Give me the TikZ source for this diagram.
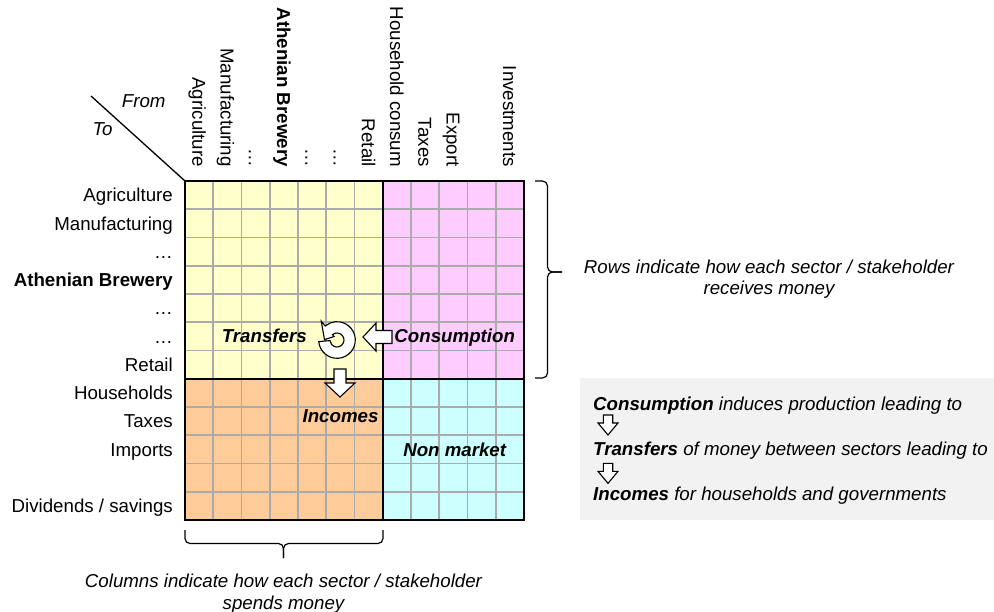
\documentclass[tikz,border=0pt]{standalone}
\usepackage{fontspec}
\setmainfont{Liberation Sans}
\definecolor{qyellow}{HTML}{FFFFCC}
\definecolor{qpink}{HTML}{FFCCFF}
\definecolor{qorange}{HTML}{FFCC99}
\definecolor{qcyan}{HTML}{CCFFFF}
\definecolor{gridgray}{HTML}{ABABAB}
\definecolor{boxgray}{HTML}{F2F2F2}
\begin{document}
\begin{tikzpicture}[x=1pt,y=-1pt,
  every node/.style={inner sep=0pt, font=\fontsize{18.7}{21.7}\selectfont},
  lbl/.style={anchor=base east},
  collbl/.style={anchor=base east, rotate=-90},
  gridline/.style={draw=gridgray, line width=1.6pt},
  quadframe/.style={draw=black, line width=2.3pt},
  blockarrow/.style={draw=black, fill=white, line width=1.1pt, line join=miter},
  bracepath/.style={draw=black, line width=1.2pt, rounded corners=5pt},
  qlabel/.style={anchor=base, font=\fontsize{18.7}{21.7}\selectfont\bfseries\itshape},
  note/.style={anchor=base, font=\fontsize{18.7}{21.7}\selectfont\itshape},
  expl/.style={anchor=base west, font=\fontsize{18.7}{21.7}\selectfont\itshape}
]
\useasboundingbox (0,0) rectangle (994,611);

% gray explanation box
\fill[boxgray] (580,378) rectangle (994,520);

% quadrants
\fill[qyellow] (185,181) rectangle (382.75,378.75);
\fill[qpink] (382.75,181) rectangle (524,378.75);
\fill[qorange] (185,378.75) rectangle (382.75,520);
\fill[qcyan] (382.75,378.75) rectangle (524,520);

% grid lines
\foreach \i in {1,...,11}{
  \draw[gridline] ({185+28.25*\i},181) -- ({185+28.25*\i},520);
  \draw[gridline] (185,{181+28.25*\i}) -- (524,{181+28.25*\i});
}
% frame and dividers
\draw[quadframe] (185,181) rectangle (524,520);
\draw[quadframe] (382.75,181) -- (382.75,520);
\draw[quadframe] (185,378.75) -- (524,378.75);

% diagonal header
\coordinate (diagstart) at (91,96);
\coordinate (corner) at (185,181);
\draw[line width=1.3pt] (diagstart) -- (corner);
\node[anchor=base west, font=\fontsize{18.7}{21.7}\selectfont\itshape] (from) at (121.7,107.3) {From};
\node[anchor=base west, font=\fontsize{18.7}{21.7}\selectfont\itshape] (to) at (92.3,135) {To};

% row labels
\node[lbl] (r1) at (173,201.8) {Agriculture};
\node[lbl] (r2) at (173,230.1) {Manufacturing};
\node[lbl] (r3) at (173,258.3) {…};
\node[lbl] (r4) at (173,286.6) {\bfseries Athenian Brewery};
\node[lbl] (r5) at (173,314.8) {…};
\node[lbl] (r6) at (173,343.1) {…};
\node[lbl] (r7) at (173,371.3) {Retail};
\node[lbl] (r8) at (173,399.6) {Households};
\node[lbl] (r9) at (173,427.8) {Taxes};
\node[lbl] (r10) at (173,456.1) {Imports};
\node[lbl] (r12) at (173,512.6) {Dividends / savings};

% column labels
\node[collbl] (c1) at (192.4,167) {Agriculture};
\node[collbl] (c2) at (220.7,167) {Manufacturing};
\node[collbl] (c3) at (248.9,167) {…};
\node[collbl] (c4) at (277.2,167) {\bfseries Athenian Brewery};
\node[collbl] (c5) at (305.4,167) {…};
\node[collbl] (c6) at (333.7,167) {…};
\node[collbl] (c7) at (361.9,167) {Retail};
\node[collbl] (c8) at (390.2,167) {Household consum};
\node[collbl] (c9) at (418.4,167) {Taxes};
\node[collbl] (c10) at (446.7,167) {Export};
\node[collbl] (c12) at (503.2,167) {Investments};

% quadrant labels
\node[qlabel] (transfers) at (264.3,342.3) {Transfers};
\node[qlabel] (consumption) at (454.7,342.3) {Consumption};
\node[qlabel] (incomes) at (340.5,422.3) {Incomes};
\node[qlabel] (nonmarket) at (454.7,456.7) {Non market};

% circular arrow
\begin{scope}[shift={(337,340)}, yscale=-1]
\draw[blockarrow] (185:18.3) arc[start angle=185, end angle=490, radius=18.3]
  -- (130:24.5) -- (178:12.5) -- (130:4.5) -- (130:7)
  arc[start angle=490, end angle=185, radius=7] -- cycle;
\end{scope}

% left block arrow (consumption -> transfers)
\draw[blockarrow] (363,337) -- (376,323) -- (376,330.5) -- (392,330.5)
  -- (392,343.5) -- (376,343.5) -- (376,351) -- cycle;
% down block arrow (transfers -> incomes)
\draw[blockarrow] (340,397) -- (325,383) -- (334,383) -- (334,369)
  -- (346,369) -- (346,383) -- (355,383) -- cycle;

% right brace
\draw[bracepath] (535,181) -- (547.5,181) -- (547.5,272) -- (562,272);
\draw[bracepath] (562,272) -- (547.5,272) -- (547.5,378) -- (535,378);
\node[note] (rows1) at (769,273) {Rows indicate how each sector / stakeholder};
\node[note] (rows2) at (769,294.5) {receives money};

% bottom brace
\draw[bracepath] (185,530) -- (185,543.5) -- (283.5,543.5) -- (283.5,558);
\draw[bracepath] (283.5,558) -- (283.5,543.5) -- (383,543.5) -- (383,530);
\node[note] (cols1) at (283.5,587.5) {Columns indicate how each sector / stakeholder};
\node[note] (cols2) at (283.5,609) {spends money};

% explanation text
\node[expl] (exp1) at (593,410.5) {{\bfseries Consumption} induces production leading to};
\node[expl] (exp2) at (593,455.5) {{\bfseries Transfers} of money between sectors leading to};
\node[expl] (exp3) at (593,500) {{\bfseries Incomes} for households and governments};
\draw[blockarrow] (608,435) -- (598,423) -- (603.3,423) -- (603.3,415) -- (612.7,415)
  -- (612.7,423) -- (618,423) -- cycle;
\draw[blockarrow] (608,483.3) -- (598,471.3) -- (603.3,471.3) -- (603.3,463.3) -- (612.7,463.3)
  -- (612.7,471.3) -- (618,471.3) -- cycle;
\end{tikzpicture}
\end{document}
